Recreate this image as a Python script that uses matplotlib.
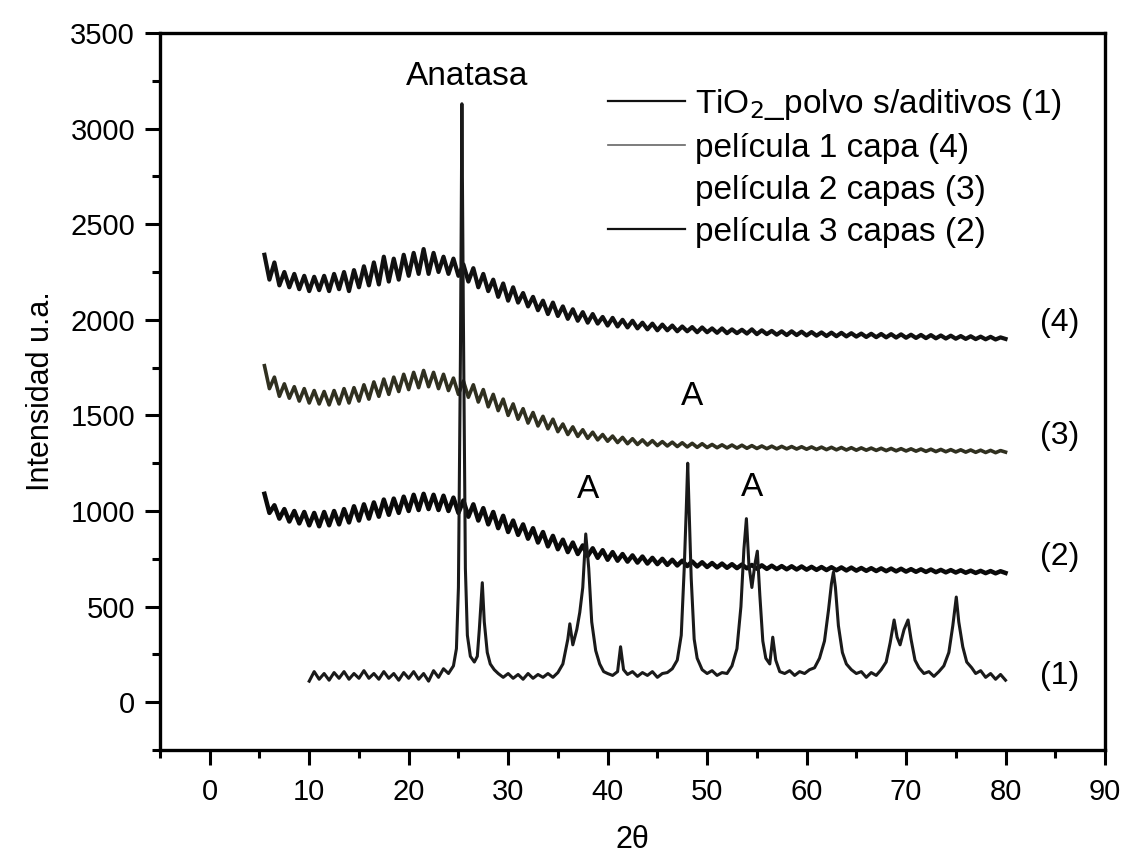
import numpy as np
import matplotlib
matplotlib.use("Agg")
import matplotlib.pyplot as plt
from matplotlib.lines import Line2D

plt.rcParams['font.family'] = ['Liberation Sans', 'DejaVu Sans']

# ---- data -------------------------------------------------------------
theta_film = np.arange(5.5, 80.01, 0.5)   # sampling grid of the film scans

film1_capa4 = [
    2340, 2210, 2300, 2180, 2250, 2170, 2240, 2160, 2230, 2150,
    2225, 2155, 2230, 2150, 2240, 2160, 2250, 2150, 2260, 2170,
    2280, 2180, 2300, 2185, 2330, 2200, 2320, 2210, 2340, 2230,
    2350, 2240, 2370, 2240, 2350, 2250, 2330, 2240, 2320, 2230,
    2290, 2200, 2270, 2170, 2240, 2150, 2210, 2120, 2190, 2100,
    2170, 2090, 2140, 2070, 2120, 2050, 2100, 2030, 2090, 2020,
    2070, 2005, 2055, 1995, 2040, 1985, 2030, 1980, 2015, 1970,
    2010, 1965, 2000, 1960, 1995, 1955, 1985, 1950, 1980, 1945,
    1975, 1945, 1970, 1940, 1965, 1940, 1962, 1935, 1960, 1935,
    1955, 1932, 1955, 1930, 1950, 1930, 1948, 1928, 1950, 1925,
    1945, 1925, 1942, 1922, 1940, 1920, 1940, 1920, 1938, 1918,
    1936, 1917, 1934, 1915, 1933, 1914, 1932, 1913, 1930, 1912,
    1928, 1910, 1927, 1909, 1926, 1908, 1925, 1907, 1924, 1906,
    1922, 1905, 1921, 1904, 1920, 1903, 1918, 1902, 1917, 1901,
    1915, 1900, 1914, 1899, 1912, 1898, 1911, 1897, 1908, 1900,
]

film2_capas3 = [
    1760, 1640, 1700, 1600, 1665, 1590, 1650, 1575, 1640, 1565,
    1630, 1560, 1625, 1555, 1630, 1560, 1640, 1565, 1645, 1575,
    1660, 1585, 1675, 1600, 1690, 1610, 1700, 1625, 1715, 1635,
    1725, 1645, 1735, 1650, 1725, 1640, 1715, 1630, 1695, 1610,
    1680, 1595, 1660, 1570, 1635, 1545, 1610, 1525, 1585, 1500,
    1560, 1480, 1535, 1460, 1515, 1445, 1495, 1430, 1480, 1415,
    1455, 1400, 1440, 1390, 1425, 1380, 1412, 1372, 1400, 1365,
    1392, 1358, 1385, 1352, 1378, 1348, 1372, 1345, 1368, 1342,
    1363, 1340, 1360, 1337, 1357, 1335, 1354, 1333, 1352, 1332,
    1348, 1331, 1346, 1330, 1345, 1329, 1344, 1328, 1342, 1327,
    1340, 1326, 1339, 1325, 1338, 1325, 1337, 1324, 1336, 1323,
    1335, 1322, 1334, 1321, 1333, 1320, 1332, 1319, 1331, 1318,
    1330, 1318, 1329, 1317, 1328, 1316, 1327, 1315, 1326, 1314,
    1325, 1313, 1324, 1312, 1323, 1311, 1322, 1310, 1321, 1309,
    1320, 1308, 1319, 1307, 1318, 1306, 1317, 1305, 1316, 1308,
]

film3_capas2 = [
    1090, 990, 1030, 960, 1010, 945, 1000, 935, 995, 925,
    990, 920, 995, 925, 1000, 930, 1010, 940, 1025, 950,
    1035, 960, 1045, 970, 1060, 980, 1065, 990, 1075, 1000,
    1085, 1005, 1090, 1010, 1085, 1005, 1080, 1000, 1070, 990,
    1055, 970, 1035, 950, 1015, 930, 995, 910, 975, 890,
    950, 875, 930, 855, 910, 835, 890, 815, 870, 800,
    850, 785, 835, 775, 820, 765, 805, 755, 795, 745,
    785, 740, 775, 735, 768, 730, 762, 725, 755, 722,
    750, 718, 745, 715, 740, 712, 736, 710, 732, 707,
    728, 705, 725, 703, 722, 701, 720, 700, 718, 698,
    716, 697, 714, 696, 712, 695, 711, 694, 710, 693,
    708, 692, 707, 691, 706, 690, 705, 689, 704, 688,
    702, 687, 701, 686, 700, 685, 699, 684, 698, 683,
    696, 682, 695, 681, 694, 680, 692, 679, 691, 678,
    690, 677, 688, 676, 687, 675, 686, 674, 685, 676,
]

theta_powder = [
    10.0, 10.5, 11.0, 11.5, 12.0, 12.5, 13.0, 13.5, 14.0, 14.5,
    15.0, 15.5, 16.0, 16.5, 17.0, 17.5, 18.0, 18.5, 19.0, 19.5,
    20.0, 20.5, 21.0, 21.5, 22.0, 22.5, 23.0, 23.5, 24.0, 24.5,
    24.8, 25.0, 25.2, 25.35, 25.5, 25.7, 25.9, 26.2, 26.6, 26.9,
    27.1, 27.4, 27.6, 27.9, 28.2, 28.6, 29.0, 29.5, 30.0, 30.5,
    31.0, 31.5, 32.0, 32.5, 33.0, 33.5, 34.0, 34.5, 35.0, 35.5,
    36.0, 36.2, 36.5, 36.9, 37.2, 37.5, 37.8, 38.1, 38.4, 38.8,
    39.2, 39.6, 40.0, 40.5, 41.0, 41.3, 41.6, 42.0, 42.5, 43.0,
    43.5, 44.0, 44.5, 45.0, 45.5, 46.0, 46.5, 47.0, 47.4, 47.7,
    47.9, 48.05, 48.2, 48.4, 48.7, 49.0, 49.5, 50.0, 50.5, 51.0,
    51.5, 52.0, 52.5, 53.0, 53.4, 53.7, 53.95, 54.2, 54.5, 54.8,
    55.05, 55.3, 55.6, 55.9, 56.3, 56.6, 56.9, 57.3, 57.8, 58.3,
    58.8, 59.3, 59.8, 60.3, 60.8, 61.3, 61.8, 62.2, 62.5, 62.7,
    62.9, 63.2, 63.6, 64.0, 64.5, 65.0, 65.5, 66.0, 66.5, 67.0,
    67.5, 68.0, 68.4, 68.8, 69.1, 69.4, 69.8, 70.2, 70.5, 70.9,
    71.3, 71.8, 72.3, 72.8, 73.3, 73.8, 74.3, 74.7, 75.05, 75.3,
    75.7, 76.1, 76.6, 77.0, 77.5, 78.0, 78.5, 79.0, 79.5, 80.0,
]
powder_1 = [
    110, 160, 120, 150, 115, 155, 125, 160, 120, 150,
    125, 165, 125, 150, 120, 160, 125, 150, 115, 155,
    125, 160, 120, 150, 110, 165, 130, 175, 150, 190,
    280, 600, 1800, 3130, 2000, 700, 350, 240, 210, 240,
    380, 625, 420, 260, 200, 170, 150, 130, 150, 125,
    145, 120, 150, 125, 145, 130, 150, 130, 155, 200,
    330, 410, 300, 380, 470, 600, 880, 700, 420, 270,
    200, 160, 150, 140, 160, 290, 170, 145, 160, 135,
    155, 140, 160, 130, 150, 155, 175, 220, 350, 700,
    1000, 1250, 1000, 650, 330, 230, 170, 150, 165, 140,
    155, 150, 190, 280, 500, 800, 960, 720, 600, 720,
    790, 560, 320, 230, 200, 340, 220, 160, 150, 165,
    140, 160, 150, 170, 180, 230, 320, 480, 620, 680,
    600, 400, 260, 200, 170, 150, 160, 130, 155, 140,
    170, 210, 310, 430, 340, 300, 380, 430, 330, 220,
    180, 150, 160, 135, 160, 190, 260, 400, 550, 420,
    290, 210, 180, 150, 165, 130, 150, 120, 145, 115,
]

legend_labels = [r"TiO$_2$_polvo s/aditivos (1)", "película 1 capa (4)",
                 "película 2 capas (3)", "película 3 capas (2)"]
curve_tags = ["(4)", "(3)", "(2)", "(1)"]
tag_y = [1985, 1390, 760, 135]
peak_labels = [("Anatasa", 25.9, 3270), ("A", 38.0, 1110),
               ("A", 48.5, 1600), ("A", 54.5, 1125)]

# ---- figure -----------------------------------------------------------
fig = plt.figure(figsize=(11.25, 8.58), dpi=100)
ax = fig.add_axes([160/1125, 1 - 750/858, 945/1125, 717/858])

ax.plot(theta_film, film1_capa4, color='#111111', lw=3.0)
ax.plot(theta_film, film2_capas3, color='#303020', lw=2.6)
ax.plot(theta_film, film3_capas2, color='#0a0a0a', lw=3.2)
ax.plot(theta_powder, powder_1, color='#1a1a1a', lw=2.2)

ax.set_xlim(-5, 90)
ax.set_ylim(-250, 3500)
ax.set_xticks(np.arange(0, 91, 10))
ax.set_xticks(np.arange(-5, 91, 5), minor=True)
ax.set_yticks(np.arange(0, 3501, 500))
ax.set_yticks(np.arange(-250, 3501, 250), minor=True)
ax.tick_params(which='major', direction='out', length=11, width=2.2,
               labelsize=21)
ax.tick_params(axis='y', which='major', pad=7)
ax.tick_params(axis='x', which='major', pad=9)
ax.tick_params(which='minor', direction='out', length=6, width=2.2)
for s in ax.spines.values():
    s.set_linewidth(2.4)

ax.set_xlabel("2θ", fontsize=22, labelpad=14)
ax.set_ylabel("Intensidad u.a.", fontsize=22, labelpad=10)

for txt, x, y in peak_labels:
    ax.text(x, y, txt, fontsize=24, ha='center', va='center')
for txt, y in zip(curve_tags, tag_y):
    ax.text(83.5, y, txt, fontsize=23, ha='left', va='center')

handles = [Line2D([], [], color='#111111', lw=1.6),
           Line2D([], [], color='#666666', lw=1.2),
           Line2D([], [], color='none', lw=1.2),
           Line2D([], [], color='#111111', lw=1.6)]
ax.legend(handles, legend_labels, loc='upper left',
          bbox_to_anchor=(0.474, 0.925), frameon=False, fontsize=24,
          handlelength=2.3, handletextpad=0.3, labelspacing=0.33,
          borderpad=0, borderaxespad=0)

fig.savefig("out.png", dpi=100)
